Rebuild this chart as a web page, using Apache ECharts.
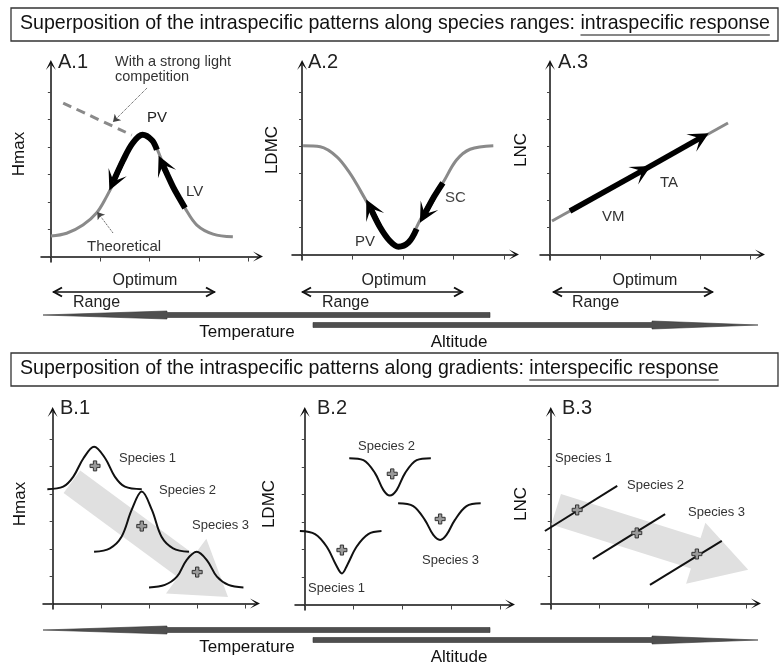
<!DOCTYPE html>
<html lang="en">
<head>
<meta charset="UTF-8">
<title>Intraspecific and interspecific response</title>
<script src="https://cdn.jsdelivr.net/npm/echarts@6.0.0/dist/echarts.min.js"></script>
</head>
<body style="margin:0;background:#fff">
<div id="main" style="width:780px;height:664px;"></div>
<script type="text/javascript">
// ---- data (axis units: x ticks 0..4, y ticks 0..6) ----
// A.1 Hmax
const a1Theoretical = [[0,0.75],[0.32,0.85],[0.65,1.15],[0.93,1.6],[1.13,2.19],[1.3,2.8],[1.46,3.53],[1.64,4.14],[1.86,4.44],[2.07,4.2],[2.27,3.42],[2.48,2.54],[2.72,1.77],[2.96,1.15],[3.29,0.82],[3.69,0.72]];
const a1PV = [[2.15,3.9],[2.05,4.25],[1.86,4.45],[1.66,4.15],[1.46,3.5],[1.27,2.75]];
const a1LV = [[2.72,1.77],[2.6,2.15],[2.48,2.54],[2.36,3.0],[2.27,3.35]];
const a1Light = [[0.25,5.61],[1.64,4.44]];
const a1LightPointer = [[1.95,6.16],[1.26,4.92]];
const a1TheoPointer = [[1.26,0.86],[0.94,1.63]];
// A.2 LDMC
const a2Theoretical = [[0.02,4.02],[0.36,3.98],[0.69,3.61],[0.95,3.0],[1.15,2.38],[1.35,1.71],[1.54,1.03],[1.74,0.48],[1.91,0.29],[2.11,0.48],[2.34,1.28],[2.54,1.95],[2.79,2.65],[3.06,3.49],[3.33,3.89],[3.79,4.02]];
const a2SC = [[2.79,2.65],[2.62,2.15],[2.43,1.5]];
const a2PV = [[2.27,0.95],[2.11,0.45],[1.91,0.29],[1.74,0.5],[1.54,1.03],[1.36,1.7]];
// A.3 LNC
const a3Theoretical = [[0.04,1.24],[3.56,4.86]];
const a3VM = [[0.4,1.61],[1.84,3.09]];
const a3TA = [[1.84,3.09],[3.0,4.3]];
// B.1 Hmax
const b1Species1 = [[-0.11,4.18],[0.22,4.27],[0.43,4.64],[0.64,5.31],[0.86,5.73],[1.09,5.31],[1.29,4.64],[1.5,4.27],[1.85,4.18]];
const b1Species2 = [[0.86,1.89],[1.19,2.02],[1.43,2.44],[1.64,3.42],[1.85,4.09],[2.06,3.42],[2.26,2.44],[2.5,2.02],[2.83,1.89]];
const b1Species3 = [[2.0,0.59],[2.33,0.68],[2.58,0.98],[2.78,1.59],[2.99,1.89],[3.2,1.59],[3.41,0.98],[3.65,0.68],[3.96,0.59]];
const b1Optima = [[0.88,5.03],[1.85,2.83],[3.0,1.15]];
const b1Trend = [0.4,4.45,3.64,0.24];
// B.2 LDMC
const b2Species1 = [[-0.1,2.67],[0.21,2.56],[0.45,2.1],[0.64,1.44],[0.76,1.13],[0.87,1.44],[1.06,2.1],[1.3,2.56],[1.57,2.67]];
const b2Species2 = [[0.91,5.32],[1.2,5.25],[1.44,4.77],[1.61,4.16],[1.74,3.96],[1.88,4.16],[2.05,4.77],[2.29,5.25],[2.58,5.32]];
const b2Species3 = [[1.91,3.68],[2.22,3.58],[2.46,3.07],[2.63,2.53],[2.77,2.35],[2.9,2.53],[3.07,3.07],[3.31,3.58],[3.6,3.68]];
const b2Optima = [[1.79,4.75],[2.77,3.11],[0.76,1.98]];
// B.3 LNC
const b3Species1 = [[-0.12,2.65],[1.36,4.3]];
const b3Species2 = [[0.86,1.63],[2.34,3.27]];
const b3Species3 = [[2.03,0.68],[3.5,2.29]];
const b3Optima = [[0.54,3.42],[1.76,2.58],[2.99,1.81]];
const b3Trend = [0.11,3.45,4.04,1.23];

const xTicks = [0,1,2,3,4];
const yTicks = [0,1,2,3,4,5,6];

// ---- layout ----
const FONT = '"Liberation Sans", Arial, sans-serif';
const panels = [
  {left:41, top:65, width:217, height:197},
  {left:292, top:65, width:222, height:195},
  {left:540, top:65, width:220, height:195},
  {left:43, top:412, width:212, height:197},
  {left:295, top:412, width:215, height:198},
  {left:541, top:412, width:215, height:197}
];

const grids = panels.map(p => ({left:p.left, top:p.top, width:p.width, height:p.height, containLabel:false}));
// barbed open arrow like the hand-drawn axes
const axisLine = {symbol:['none','path://M0,12 L6,0 L12,12 L6,5 Z'], symbolSize:[10,12], lineStyle:{color:'#111', width:1.5}};
const xAxes = panels.map((p, i) => ({
  type:'value', gridIndex:i, min:-0.2, max:4.2,
  axisLine: axisLine,
  axisTick:{show:true, customValues:xTicks, length:5, lineStyle:{color:'#444'}},
  axisLabel:{show:false}, splitLine:{show:false}
}));
const yAxes = panels.map((p, i) => ({
  type:'value', gridIndex:i, min:-0.2, max:7,
  axisLine: axisLine,
  axisTick:{show:true, customValues:yTicks, length:3, lineStyle:{color:'#444'}},
  axisLabel:{show:false}, splitLine:{show:false}
}));

function curve(i, pts, color, width, z, type) {
  return {type:'line', xAxisIndex:i, yAxisIndex:i, data:pts, smooth:0.35, symbol:'none',
    lineStyle:{color:color, width:width, type:type || 'solid', cap:'butt'}, z:z, silent:true, animation:false};
}
// arrowheads drawn on the last segment of each path
function heads(i, paths, color, width, size, type, sym) {
  return {type:'lines', coordinateSystem:'cartesian2d', xAxisIndex:i, yAxisIndex:i,
    symbol:['none', sym || 'path://M0,12 L6,0 L12,12 L6,6 Z'], symbolSize:size, z:4, silent:true, animation:false,
    lineStyle:{color:color, width:width, opacity:1, type:type || 'solid'},
    data: paths.map(p => ({coords:p.slice(-2)}))};
}
function optima(i, pts) {
  return {type:'scatter', xAxisIndex:i, yAxisIndex:i, data:pts, z:5, silent:true, animation:false,
    symbol:'path://M3,0H6V3H9V6H6V9H3V6H0V3H3Z', symbolSize:10,
    itemStyle:{color:'#9a9a9a', borderColor:'#333', borderWidth:1, opacity:1}};
}
function trendArrow(shaft, head, headLen) {
  return function (params, api) {
    const a = api.coord([api.value(0), api.value(1)]);
    const b = api.coord([api.value(2), api.value(3)]);
    const dx = b[0]-a[0], dy = b[1]-a[1], L = Math.hypot(dx, dy);
    const ux = dx/L, uy = dy/L, nx = -uy, ny = ux;
    const bx = b[0]-ux*headLen, by = b[1]-uy*headLen;
    const P = (x, y, s) => [x+nx*s, y+ny*s];
    return {type:'polygon', shape:{points:[P(a[0],a[1],shaft),P(bx,by,shaft),P(bx,by,head),b,P(bx,by,-head),P(bx,by,-shaft),P(a[0],a[1],-shaft)]},
      style:{fill:'#e0e0e0'}};
  };
}
function trend(i, vals, shaft, head, headLen) {
  return {type:'custom', xAxisIndex:i, yAxisIndex:i, data:[vals], z:1, silent:true, animation:false,
    renderItem: trendArrow(shaft, head, headLen)};
}

const GRAY = '#8a8a8a';
const series = [
  curve(0, a1Theoretical, GRAY, 3, 2),
  curve(0, a1Light, GRAY, 3, 2, [9,6]),
  curve(0, a1PV, '#000', 6, 3),
  curve(0, a1LV, '#000', 6, 3),
  heads(0, [a1PV, a1LV], '#000', 5, [18,20]),
  heads(0, [a1LightPointer, a1TheoPointer], '#444', 1, 7, 'dotted', 'arrow'),
  curve(1, a2Theoretical, GRAY, 3, 2),
  curve(1, a2SC, '#000', 6, 3),
  curve(1, a2PV, '#000', 6, 3),
  heads(1, [a2SC, a2PV], '#000', 5, [18,20]),
  curve(2, a3Theoretical, GRAY, 3, 2),
  heads(2, [a3VM, a3TA], '#000', 5.5, [18,20]),
  trend(3, b1Trend, 14, 34, 52),
  curve(3, b1Species1, '#111', 2, 3),
  curve(3, b1Species2, '#111', 2, 3),
  curve(3, b1Species3, '#111', 2, 3),
  optima(3, b1Optima),
  curve(4, b2Species1, '#111', 2, 3),
  curve(4, b2Species2, '#111', 2, 3),
  curve(4, b2Species3, '#111', 2, 3),
  optima(4, b2Optima),
  trend(5, b3Trend, 16, 32, 55),
  curve(5, b3Species1, '#111', 2, 3),
  curve(5, b3Species2, '#111', 2, 3),
  curve(5, b3Species3, '#111', 2, 3),
  optima(5, b3Optima)
];

// ---- annotations ----
function txt(x, y, s, size, opt) {
  opt = opt || {};
  return {type:'text', x:x, y:y, z:100, rotation:opt.rot || 0, silent:true,
    style:{text:s, font:size + 'px ' + FONT, fill:opt.fill || '#222',
      textAlign:opt.align || 'left', textVerticalAlign:'middle'}};
}
function dblArrow(x1, x2, y) {
  const st = {stroke:'#111', lineWidth:1.5, fill:null};
  return [
    {type:'line', z:100, shape:{x1:x1, y1:y, x2:x2, y2:y}, style:st},
    {type:'polyline', z:100, shape:{points:[[x1+9,y-4.5],[x1+1,y],[x1+9,y+4.5]]}, style:{stroke:'#111', lineWidth:2, fill:null}},
    {type:'polyline', z:100, shape:{points:[[x2-9,y-4.5],[x2-1,y],[x2-9,y+4.5]]}, style:{stroke:'#111', lineWidth:2, fill:null}}
  ];
}
function gradientArrows(y) {
  const ya = y + 10;
  const st = {fill:'#4f4f4f', stroke:'#333', lineWidth:0.6};
  return [
    {type:'polygon', z:50, shape:{points:[[43,y],[167,y-4],[167,y-2.5],[490,y-2.5],[490,y+2.5],[167,y+2.5],[167,y+4]]}, style:st},
    {type:'polygon', z:50, shape:{points:[[313,ya-2.5],[652,ya-2.5],[652,ya-4],[758,ya],[652,ya+4],[652,ya+2.5],[313,ya+2.5]]}, style:st},
    txt(247, y+17, 'Temperature', 17, {align:'center', fill:'#111'}),
    txt(459, ya+17, 'Altitude', 17, {align:'center', fill:'#111'})
  ];
}

const ctx = document.createElement('canvas').getContext('2d');
const title1a = 'Superposition of the intraspecific patterns along species ranges: ';
const title1b = 'intraspecific response';
const title2a = 'Superposition of the intraspecific patterns along gradients: ';
const title2b = 'interspecific response';
ctx.font = '18px ' + FONT;
const titleSize = 18 * 750 / ctx.measureText(title1a + title1b).width;
ctx.font = titleSize + 'px ' + FONT;
function titleBox(y, a, b) {
  const wa = ctx.measureText(a).width, wb = ctx.measureText(b).width;
  return [
    {type:'rect', z:90, shape:{x:11, y:y, width:767, height:33}, style:{fill:'#fff', stroke:'#333', lineWidth:1.3}},
    txt(20, y+16, a + b, titleSize, {fill:'#111'}),
    {type:'line', z:100, shape:{x1:20+wa, y1:y+27, x2:20+wa+wb, y2:y+27}, style:{stroke:'#111', lineWidth:1.2}}
  ];
}

const rot = Math.PI / 2;
const elements = [].concat(
  titleBox(8, title1a, title1b),
  titleBox(353, title2a, title2b),
  [
    txt(58, 62, 'A.1', 20), txt(308, 62, 'A.2', 20), txt(558, 62, 'A.3', 20),
    txt(60, 408, 'B.1', 20), txt(317, 408, 'B.2', 20), txt(562, 408, 'B.3', 20),
    txt(19, 154, 'Hmax', 17, {rot:rot, align:'center', fill:'#111'}),
    txt(272, 150, 'LDMC', 17, {rot:rot, align:'center', fill:'#111'}),
    txt(521, 150, 'LNC', 17, {rot:rot, align:'center', fill:'#111'}),
    txt(20, 504, 'Hmax', 17, {rot:rot, align:'center', fill:'#111'}),
    txt(269, 504, 'LDMC', 17, {rot:rot, align:'center', fill:'#111'}),
    txt(521, 504, 'LNC', 17, {rot:rot, align:'center', fill:'#111'}),
    txt(115, 62, 'With a strong light', 14.5, {fill:'#333'}),
    txt(115, 77, 'competition', 14.5, {fill:'#333'}),
    txt(147, 118, 'PV', 15), txt(186, 192, 'LV', 15, {fill:'#333'}),
    txt(87, 247, 'Theoretical', 15, {fill:'#333'}),
    txt(445, 198, 'SC', 15, {fill:'#444'}), txt(355, 242, 'PV', 15, {fill:'#333'}),
    txt(660, 183, 'TA', 15, {fill:'#333'}), txt(602, 217, 'VM', 15, {fill:'#333'}),
    txt(119, 458, 'Species 1', 13, {fill:'#333'}), txt(159, 490, 'Species 2', 13, {fill:'#333'}), txt(192, 525, 'Species 3', 13, {fill:'#333'}),
    txt(358, 446, 'Species 2', 13, {fill:'#333'}), txt(422, 560, 'Species 3', 13, {fill:'#333'}), txt(308, 588, 'Species 1', 13, {fill:'#333'}),
    txt(555, 458, 'Species 1', 13, {fill:'#333'}), txt(627, 485, 'Species 2', 13, {fill:'#333'}), txt(688, 512, 'Species 3', 13, {fill:'#333'}),
    txt(145, 281, 'Optimum', 16, {align:'center'}), txt(73, 303, 'Range', 16),
    txt(394, 281, 'Optimum', 16, {align:'center'}), txt(322, 303, 'Range', 16),
    txt(645, 281, 'Optimum', 16, {align:'center'}), txt(572, 303, 'Range', 16)
  ],
  dblArrow(53, 215, 292), dblArrow(302, 463, 292), dblArrow(553, 713, 292),
  gradientArrows(315), gradientArrows(630)
);

let myChart = echarts.init(document.getElementById('main'), null, {renderer:'canvas'});
myChart.setOption({
  backgroundColor:'#fff',
  animation:false,
  grid: grids,
  xAxis: xAxes,
  yAxis: yAxes,
  series: series,
  graphic: {elements: elements}
});
</script>
</body>
</html>
